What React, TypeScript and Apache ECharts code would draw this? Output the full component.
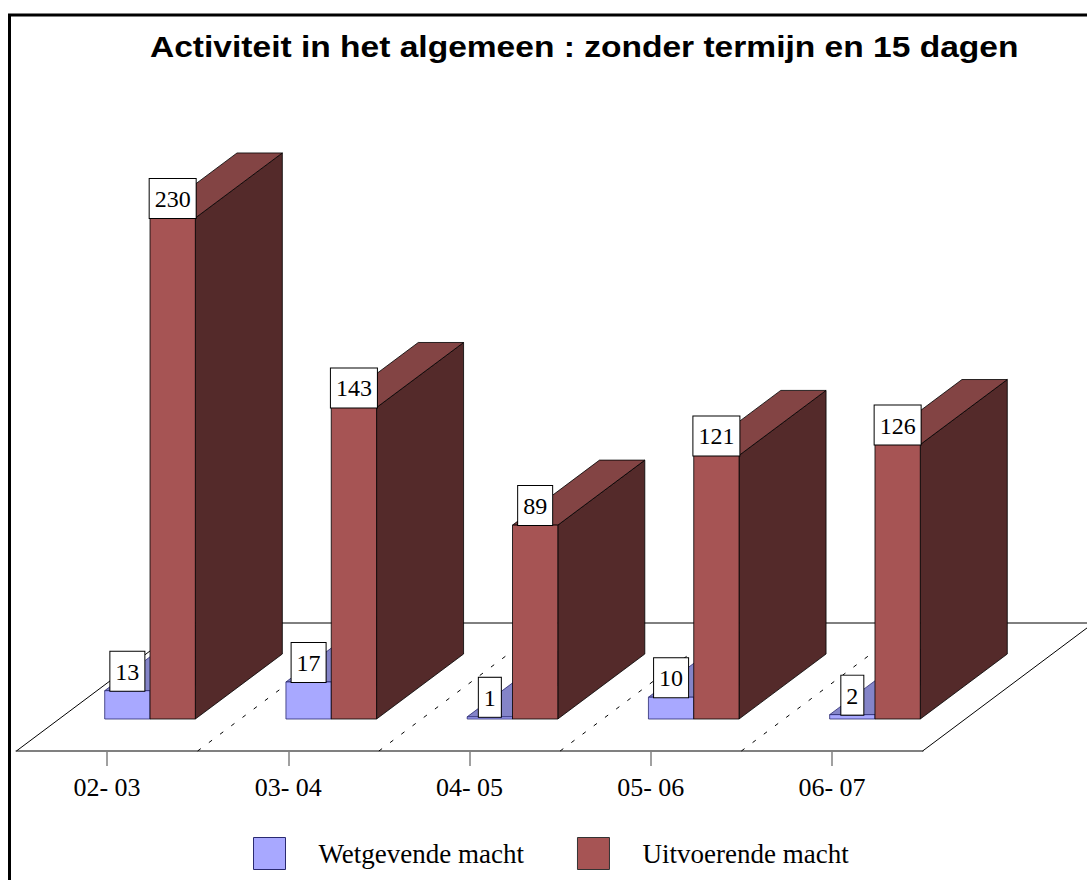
import React, { useEffect, useRef } from 'react';
import * as echarts from 'echarts';

const categories = ['02- 03', '03- 04', '04- 05', '05- 06', '06- 07'];
const wetgevende = [13, 17, 1, 10, 2];
const uitvoerende = [230, 143, 89, 121, 126];
const seriesNames = ['Wetgevende macht', 'Uitvoerende macht'];
const titleText = 'Activiteit in het algemeen : zonder termijn en 15 dagen';

// pseudo-3D geometry (pixels)
const FRONT = [43, -32];
const DEPTH = [87, -65];
const FLOOR = [171, -128];
const BAR_FRAC = 0.25;

const SERIF = "'Times New Roman', 'Liberation Serif', serif";
const SANS = "Arial, 'Liberation Sans', sans-serif";

const BLUE = { front: '#A8A8FF', top: '#8484C8', side: '#7272B8', stroke: '#2A2A70' };
const RED = { front: '#A65454', top: '#834444', side: '#542A2A', stroke: '#000000' };

function makeBarRenderer(side: number, c: any) {
  return (params: any, api: any) => {
    const idx = api.value(0);
    const val = api.value(1);
    const p0 = api.coord([idx, 0]);
    const p1 = api.coord([idx, val]);
    const band = api.size([1, 0])[0];
    const bw = band * BAR_FRAC;
    const xl = p0[0] + (side < 0 ? -bw : 0) + FRONT[0];
    const xr = xl + bw;
    const yb = p0[1] + FRONT[1];
    const yt = p1[1] + FRONT[1];
    const dx = DEPTH[0];
    const dy = DEPTH[1];
    const lw = 0.8;
    return {
      type: 'group',
      children: [
        {
          type: 'polygon',
          shape: { points: [[xr, yb], [xr + dx, yb + dy], [xr + dx, yt + dy], [xr, yt]] },
          style: { fill: c.side, stroke: c.stroke, lineWidth: lw },
        },
        {
          type: 'polygon',
          shape: { points: [[xl, yt], [xr, yt], [xr + dx, yt + dy], [xl + dx, yt + dy]] },
          style: { fill: c.top, stroke: c.stroke, lineWidth: lw },
        },
        {
          type: 'rect',
          shape: { x: xl, y: yt, width: bw, height: Math.max(yb - yt, 0.5) },
          style: { fill: c.front, stroke: c.stroke, lineWidth: lw },
        },
        {
          type: 'text',
          x: (xl + xr) / 2,
          y: yt,
          style: {
            text: String(val),
            fill: '#000',
            fontSize: 24,
            fontFamily: SERIF,
            align: 'center',
            verticalAlign: 'bottom',
            backgroundColor: '#ffffff',
            borderColor: '#000000',
            borderWidth: 1,
            padding: [8, 5, 7, 5],
          },
        },
      ],
    };
  };
}

function renderFloor(params: any, api: any) {
  const n = categories.length;
  const band = api.size([1, 0])[0];
  const first = api.coord([0, 0]);
  const last = api.coord([n - 1, 0]);
  const x0 = first[0] - band / 2;
  const x1 = last[0] + band / 2;
  const y0 = first[1];
  const fx = FLOOR[0];
  const fy = FLOOR[1];
  const children: any[] = [
    { type: 'line', shape: { x1: x0, y1: y0, x2: x0 + fx, y2: y0 + fy }, style: { stroke: '#000', lineWidth: 1 } },
    { type: 'line', shape: { x1: x1, y1: y0, x2: x1 + fx, y2: y0 + fy }, style: { stroke: '#000', lineWidth: 1 } },
    { type: 'line', shape: { x1: x0 + fx, y1: y0 + fy, x2: x1 + fx, y2: y0 + fy }, style: { stroke: '#000', lineWidth: 1 } },
  ];
  for (let i = 1; i < n; i++) {
    const bx = x0 + band * i;
    children.push({
      type: 'line',
      shape: { x1: bx, y1: y0, x2: bx + fx, y2: y0 + fy },
      style: { stroke: '#000', lineWidth: 1, lineDash: [4, 10] },
    });
  }
  return { type: 'group', children };
}

export default function App() {
  const ref = useRef<HTMLDivElement>(null);
  useEffect(() => {
    if (!ref.current) return;
    const chart = echarts.init(ref.current, null, { renderer: 'svg' });
    chart.setOption({
      animation: false,
      backgroundColor: '#ffffff',
      graphic: [
        {
          type: 'rect',
          shape: { x: 9.5, y: 15, width: 1200, height: 1000 },
          style: { fill: 'none', stroke: '#000', lineWidth: 3 },
          silent: true,
        },
        {
          type: 'text',
          x: 150,
          y: 47.5,
          scaleX: 1.157,
          style: {
            text: titleText,
            fontFamily: SANS,
            fontSize: 29,
            fontWeight: 'bold',
            fill: '#000',
            align: 'left',
            verticalAlign: 'middle',
          },
          silent: true,
        },
      ],
      legend: {
        left: 253,
        top: 837,
        padding: 0,
        itemWidth: 32,
        itemHeight: 32,
        itemGap: 53,
        icon: 'rect',
        selectedMode: false,
        textStyle: { fontFamily: SERIF, fontSize: 27, color: '#000', padding: [0, 0, 0, 28] },
        data: [
          { name: seriesNames[0], itemStyle: { color: BLUE.front, borderColor: BLUE.stroke, borderWidth: 1 } },
          { name: seriesNames[1], itemStyle: { color: RED.front, borderColor: '#333', borderWidth: 1 } },
        ],
      },
      grid: { left: 16.4, right: 164.4, top: 206.4, bottom: 129 },
      xAxis: {
        type: 'category',
        data: categories,
        axisLine: { show: true, lineStyle: { color: '#808080', width: 2 } },
        axisTick: { show: true, alignWithLabel: true, length: 15, lineStyle: { color: '#808080', width: 1.5 } },
        axisLabel: { fontFamily: SERIF, fontSize: 26, color: '#000', margin: 23 },
        splitLine: { show: false },
      },
      yAxis: { type: 'value', min: 0, max: 250, show: false, splitLine: { show: false } },
      series: [
        {
          type: 'custom',
          name: 'floor',
          renderItem: renderFloor,
          data: [[0, 0]],
          encode: { x: 0, y: 1 },
          silent: true,
          z: 1,
        },
        {
          type: 'custom',
          name: seriesNames[0],
          renderItem: makeBarRenderer(-1, BLUE),
          data: categories.map((_, i) => [i, wetgevende[i]]),
          encode: { x: 0, y: 1 },
          itemStyle: { color: BLUE.front },
          z: 2,
        },
        {
          type: 'custom',
          name: seriesNames[1],
          renderItem: makeBarRenderer(1, RED),
          data: categories.map((_, i) => [i, uitvoerende[i]]),
          encode: { x: 0, y: 1 },
          itemStyle: { color: RED.front },
          z: 3,
        },
      ],
    });
    return () => chart.dispose();
  }, []);
  return (
    <div
      ref={ref}
      style={{ position: 'fixed', left: 0, top: 0, width: 1087, height: 880 }}
    />
  );
}
